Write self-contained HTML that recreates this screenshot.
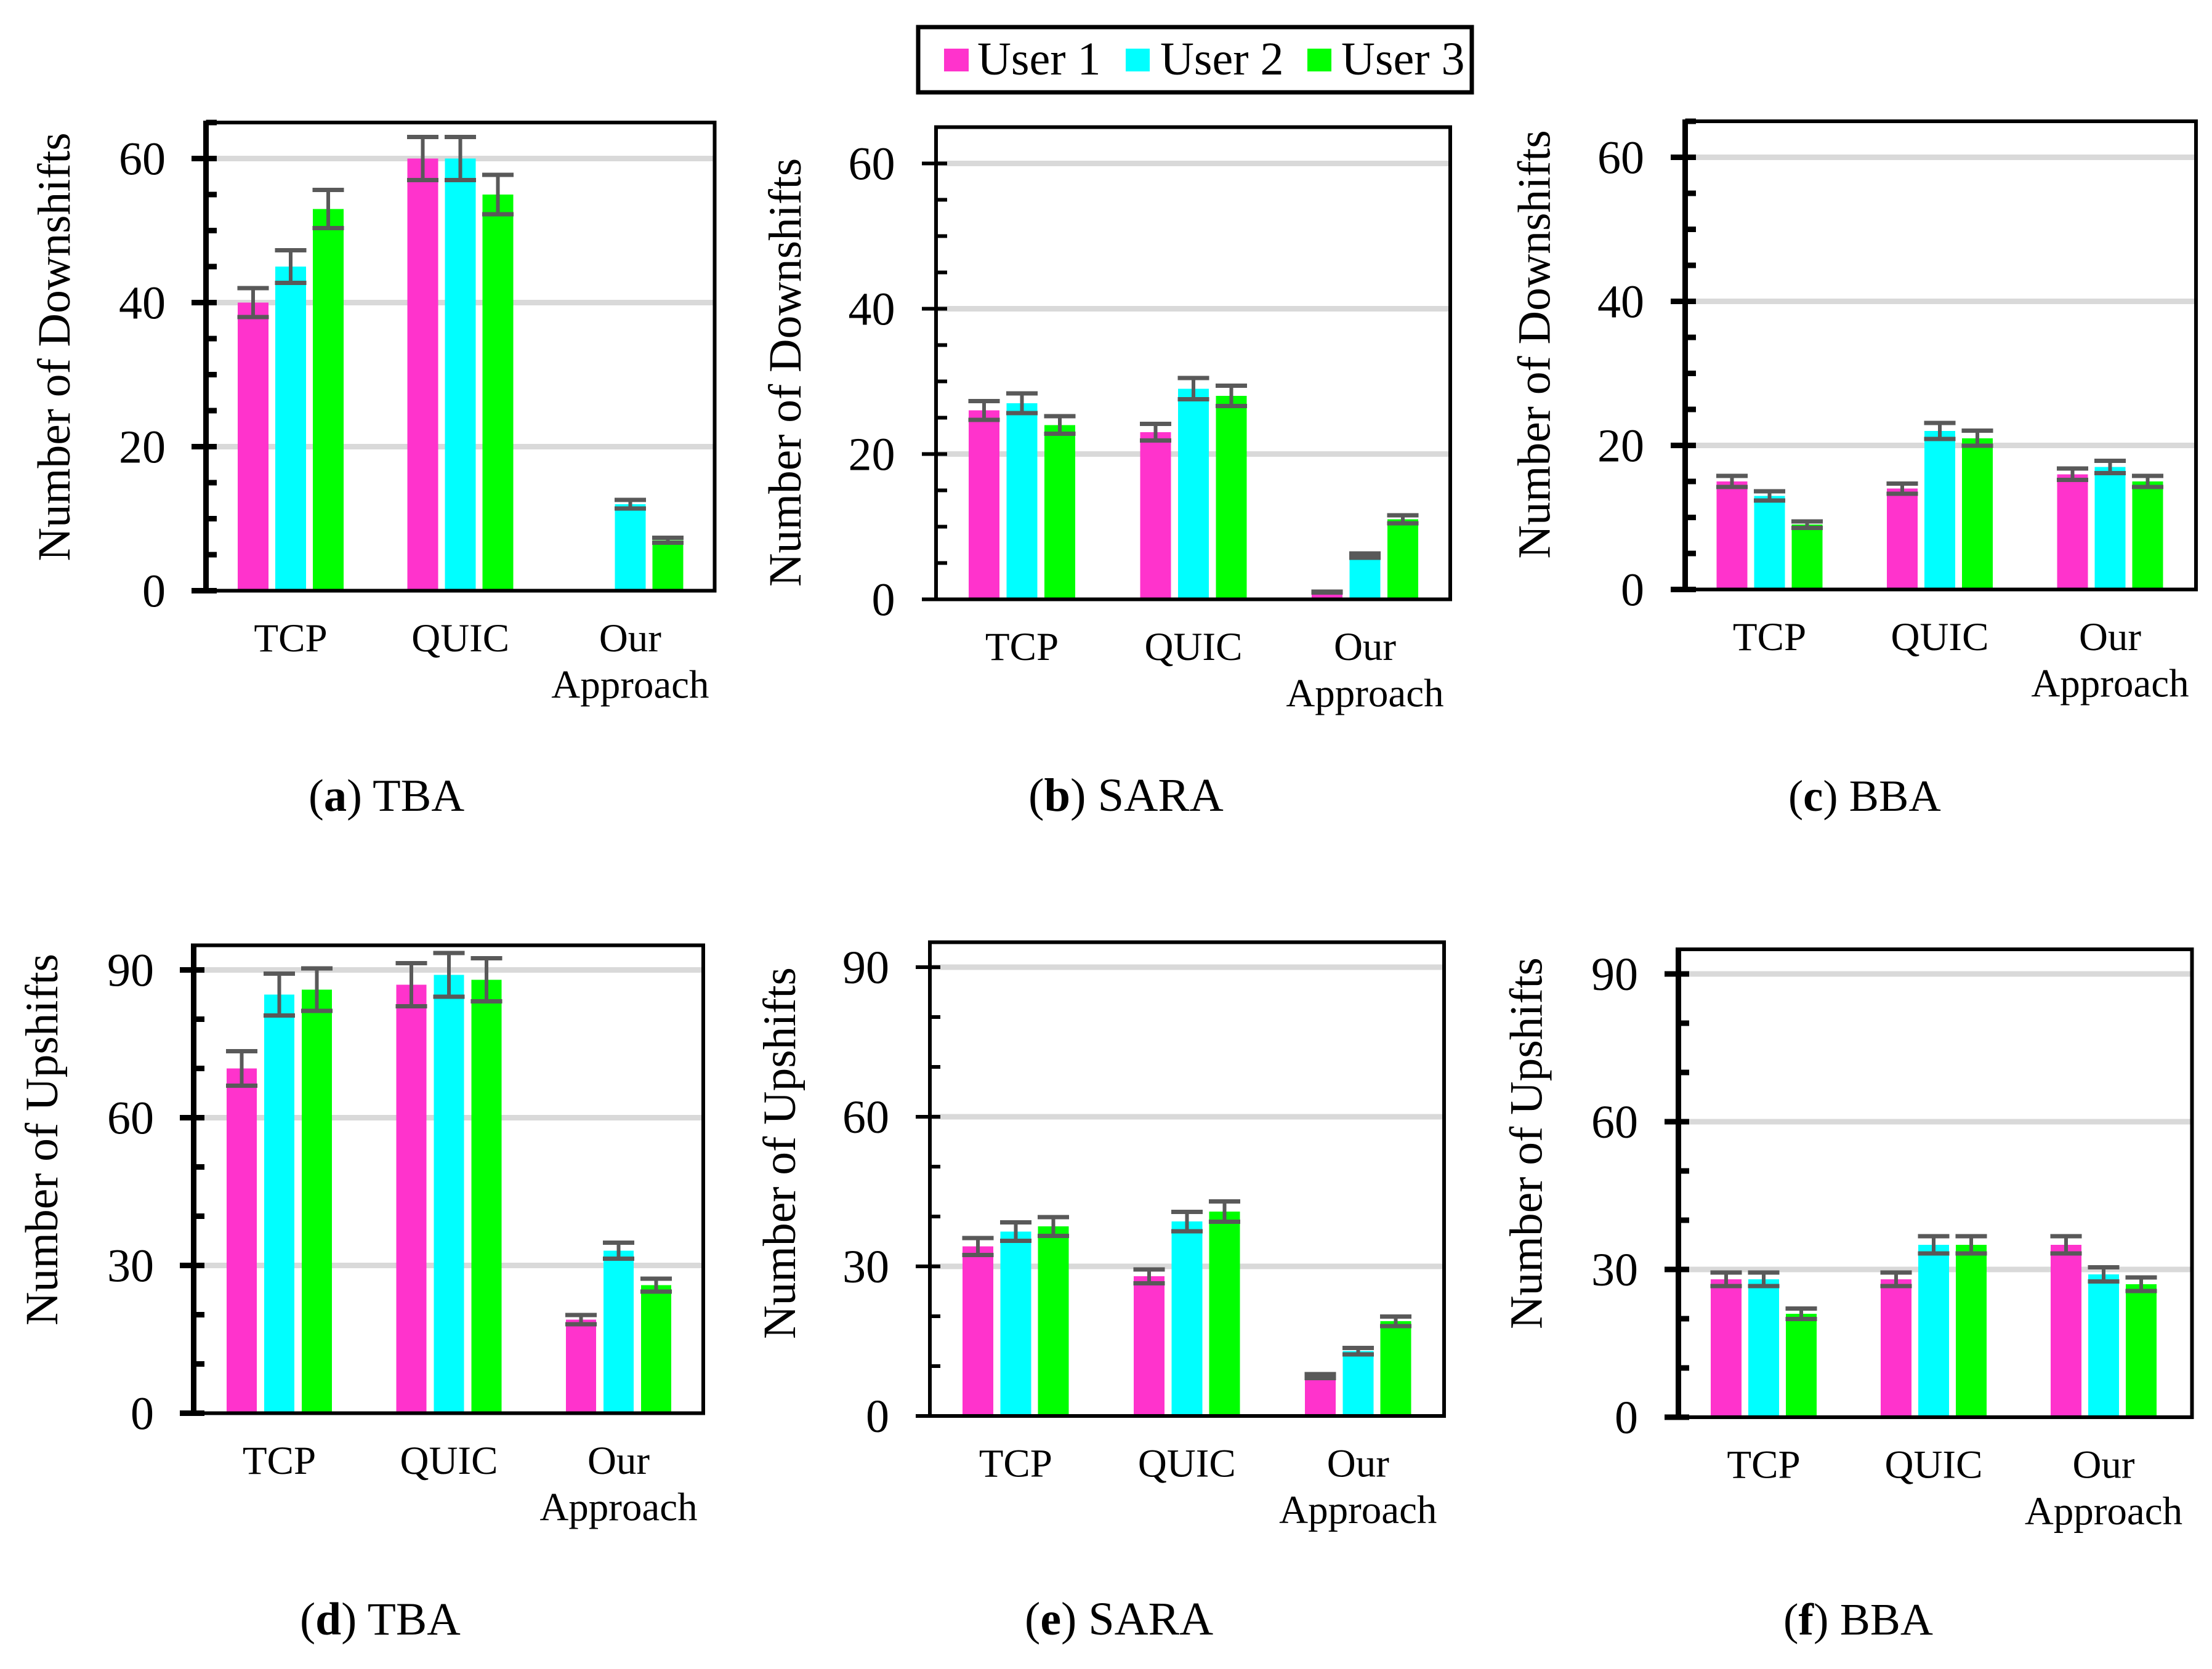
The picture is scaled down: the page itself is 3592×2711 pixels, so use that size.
<!DOCTYPE html>
<html lang="en">
<head>
<meta charset="utf-8">
<title>Number of Downshifts and Upshifts by Algorithm</title>
<style>
html,body{margin:0;padding:0;background:#fff;width:3592px;height:2711px;overflow:hidden}
svg{display:block}
text{font-family:"Liberation Serif",serif;fill:#000}
.ytitle{font-size:75.5px}
.leg{font-size:76px}
</style>
</head>
<body>
<svg id="figure" xmlns="http://www.w3.org/2000/svg" width="3592" height="2711" viewBox="0 0 3592 2711">
  <rect x="0" y="0" width="3592" height="2711" fill="#fff"/>
  <g id="panels"></g>

  <g>
    <rect x="1491" y="44" width="899" height="106" fill="#fff" stroke="#000" stroke-width="7"/>
    <rect x="1533" y="79" width="40" height="37" fill="#FF33CC"/>
    <text class="leg" x="1587" y="121">User 1</text>
    <rect x="1828" y="79" width="39" height="37" fill="#00FFFF"/>
    <text class="leg" x="1884" y="121">User 2</text>
    <rect x="2123" y="79" width="39" height="37" fill="#00FF00"/>
    <text class="leg" x="2178" y="121">User 3</text>
  </g>

  <text class="ytitle" transform="translate(113,911.5) rotate(-90)">Number of Downshifts</text>
  <text class="ytitle" transform="translate(1300,953) rotate(-90)">Number of Downshifts</text>
  <text class="ytitle" transform="translate(2516.5,907.5) rotate(-90)">Number of Downshifts</text>
  <text class="ytitle" transform="translate(93,2153) rotate(-90)">Number of Upshifts</text>
  <text class="ytitle" transform="translate(1291,2175) rotate(-90)">Number of Upshifts</text>
  <text class="ytitle" transform="translate(2503.5,2159) rotate(-90)">Number of Upshifts</text>

  <text font-size="74.5" x="501" y="1317">(<tspan font-weight="bold">a</tspan>) TBA</text>
  <text font-size="76.5" x="1670" y="1317">(<tspan font-weight="bold">b</tspan>) SARA</text>
  <text font-size="72.5" x="2904" y="1317">(<tspan font-weight="bold">c</tspan>) BBA</text>
  <text font-size="75.5" x="487" y="2655">(<tspan font-weight="bold">d</tspan>) TBA</text>
  <text font-size="76" x="1664" y="2655">(<tspan font-weight="bold">e</tspan>) SARA</text>
  <text font-size="73.5" x="2896" y="2655">(<tspan font-weight="bold">f</tspan>) BBA</text>
</svg>

<script>
// ---------- Data ----------
const categories = ['TCP', 'QUIC', 'Our Approach'];
const categorySlugs = ['tcp', 'quic', 'our-approach'];
const userColors = ['#FF33CC', '#00FFFF', '#00FF00'];

const downTicks = [0, 20, 40, 60];
const upTicks = [0, 30, 60, 90];

// (a) TBA downshifts
const aUser1 = [40, 60, 0];
const aUser2 = [45, 60, 12];
const aUser3 = [53, 55, 7];
const aErr1 = [2, 3, 0];
const aErr2 = [2.25, 3, 0.6];
const aErr3 = [2.65, 2.75, 0.35];
// (b) SARA downshifts
const bUser1 = [26, 23, 1];
const bUser2 = [27, 29, 6];
const bUser3 = [24, 28, 11];
const bErr1 = [1.3, 1.15, 0.05];
const bErr2 = [1.35, 1.45, 0.3];
const bErr3 = [1.2, 1.4, 0.55];
// (c) BBA downshifts
const cUser1 = [15, 14, 16];
const cUser2 = [13, 22, 17];
const cUser3 = [9, 21, 15];
const cErr1 = [0.75, 0.7, 0.8];
const cErr2 = [0.65, 1.1, 0.85];
const cErr3 = [0.45, 1.05, 0.75];
// (d) TBA upshifts
const dUser1 = [70, 87, 19];
const dUser2 = [85, 89, 33];
const dUser3 = [86, 88, 26];
const dErr1 = [3.5, 4.35, 0.95];
const dErr2 = [4.25, 4.45, 1.65];
const dErr3 = [4.3, 4.4, 1.3];
// (e) SARA upshifts
const eUser1 = [34, 28, 8];
const eUser2 = [37, 39, 13];
const eUser3 = [38, 41, 19];
const eErr1 = [1.7, 1.4, 0.4];
const eErr2 = [1.85, 1.95, 0.65];
const eErr3 = [1.9, 2.05, 0.95];
// (f) BBA upshifts
const fUser1 = [28, 28, 35];
const fUser2 = [28, 35, 29];
const fUser3 = [21, 35, 27];
const fErr1 = [1.4, 1.4, 1.75];
const fErr2 = [1.4, 1.75, 1.45];
const fErr3 = [1.05, 1.75, 1.35];

// ---------- Layout (pixels) ----------
const panelLayouts = [
  {id:'a', series:[aUser1,aUser2,aUser3], errs:[aErr1,aErr2,aErr3], ticks:downTicks, minorStep:5,  yMax:65, axisX:334.5, axisW:9, right:1160.5, zeroY:959.5, unit:11.7, tickL:311, tickR:352, x0:386,  period:275.7, step:61,   barW:50, labelR:269},
  {id:'b', series:[bUser1,bUser2,bUser3], errs:[bErr1,bErr2,bErr3], ticks:downTicks, minorStep:5,  yMax:65, axisX:1520,  axisW:6, right:2355, zeroY:973.5, unit:11.8, tickL:1497,tickR:1538,x0:1573, period:278.5, step:61.5, barW:50, labelR:1453.5},
  {id:'c', series:[cUser1,cUser2,cUser3], errs:[cErr1,cErr2,cErr3], ticks:downTicks, minorStep:5,  yMax:65, axisX:2736.5,axisW:9, right:3566, zeroY:957.5, unit:11.7, tickL:2713,tickR:2754,x0:2787.5, period:276.5, step:61, barW:50, labelR:2670},
  {id:'d', series:[dUser1,dUser2,dUser3], errs:[dErr1,dErr2,dErr3], ticks:upTicks,   minorStep:10, yMax:95, axisX:314.5, axisW:9, right:1142, zeroY:2295.5,unit:8,    tickL:292, tickR:332, x0:368,  period:275.5, step:61,   barW:49, labelR:250},
  {id:'e', series:[eUser1,eUser2,eUser3], errs:[eErr1,eErr2,eErr3], ticks:upTicks,   minorStep:10, yMax:95, axisX:1510,  axisW:6, right:2345, zeroY:2300,  unit:8.1,  tickL:1487,tickR:1527,x0:1563, period:278,   step:61.3, barW:50, labelR:1444},
  {id:'f', series:[fUser1,fUser2,fUser3], errs:[fErr1,fErr2,fErr3], ticks:upTicks,   minorStep:10, yMax:95, axisX:2725.5,axisW:9, right:3559.5, zeroY:2302,  unit:8,    tickL:2703,tickR:2743,x0:2778, period:276,   step:61, barW:50, labelR:2660}
];

const NS = 'http://www.w3.org/2000/svg';
const root = document.getElementById('panels');

function make(parent, tag, attrs) {
  const node = document.createElementNS(NS, tag);
  for (const k in attrs) node.setAttribute(k, attrs[k]);
  parent.appendChild(node);
  return node;
}

function drawPanel(p) {
  const yScale = v => p.zeroY - v * p.unit;
  const xScale = (g, s) => p.x0 + g * p.period + s * p.step;
  const topY = yScale(p.yMax);
  let el;

  const g = make(root, 'g', {'shape-rendering':'crispEdges'});
  
  

  // gridlines
  p.ticks.forEach(t => {
    if (t === 0) return;
    el = make(g, 'rect', {x:p.axisX, y:yScale(t) - 4.5, width:p.right - p.axisX, height:9, fill:'#D9D9D9'});
    
    
  });

  // bars and error bars
  p.series.forEach((vals, s) => {
    vals.forEach((v, c) => {
      const x = xScale(c, s);
      if (v > 0) {
        el = make(g, 'rect', {x:x, y:yScale(v), width:p.barW, height:p.zeroY - yScale(v), fill:userColors[s]});
        
        
      }
      const err = p.errs[s][c];
      if (err > 0) {
        const hi = yScale(v + err);
        const lo = yScale(v - err);
        const cx = x + p.barW / 2;
        el = make(g, 'rect', {x:cx - 3, y:hi, width:6, height:lo - hi, fill:'#595959'});
        
        
        el = make(g, 'rect', {x:cx - 25.5, y:hi - 3.5, width:51, height:7, fill:'#595959'});
        
        
        el = make(g, 'rect', {x:cx - 25.5, y:lo - 3.5, width:51, height:7, fill:'#595959'});
        
        
      }
    });
  });

  // plot frame: top, right and bottom edges
  el = make(g, 'rect', {x:p.axisX - p.axisW / 2, y:topY - 3, width:p.right + 3 - p.axisX + p.axisW / 2, height:6, fill:'#000'});
  
  
  el = make(g, 'rect', {x:p.right - 3, y:topY - 3, width:6, height:p.zeroY - topY + 6, fill:'#000'});
  
  
  el = make(g, 'rect', {x:p.axisX, y:p.zeroY - 3, width:p.right + 3 - p.axisX, height:6, fill:'#000'});
  
  
  el = make(g, 'rect', {x:p.axisX - p.axisW / 2, y:topY - 3, width:p.axisW, height:p.zeroY - topY + 6, fill:'#000'});
  
  

  // minor ticks
  for (let t = p.minorStep; t <= p.yMax; t += p.minorStep) {
    if (p.ticks.indexOf(t) !== -1) continue;
    el = make(g, 'rect', {x:p.axisX, y:yScale(t) - p.axisW / 2, width:p.tickR - p.axisX, height:p.axisW, fill:'#000'});
    
    
  }

  // major ticks and labels
  p.ticks.forEach(t => {
    el = make(g, 'rect', {x:p.tickL, y:yScale(t) - p.axisW / 2, width:p.tickR - p.tickL, height:p.axisW, fill:'#000'});
    
    
    el = make(g, 'text', {x:p.labelR, y:yScale(t) + 26, 'text-anchor':'end', 'font-size':76});
    el.textContent = String(t);
    
    
  });

  // category labels
  categories.forEach((cat, c) => {
    const cx = xScale(c, 1) + p.barW / 2;
    const parts = cat.split(' ');
    parts.forEach((word, i) => {
      el = make(g, 'text', {x:cx, y:p.zeroY + 98.5 + i * 75.5, 'text-anchor':'middle', 'font-size':65});
      el.textContent = word;
      
      
    });
  });
}

panelLayouts.forEach(drawPanel);
</script>
</body>
</html>
